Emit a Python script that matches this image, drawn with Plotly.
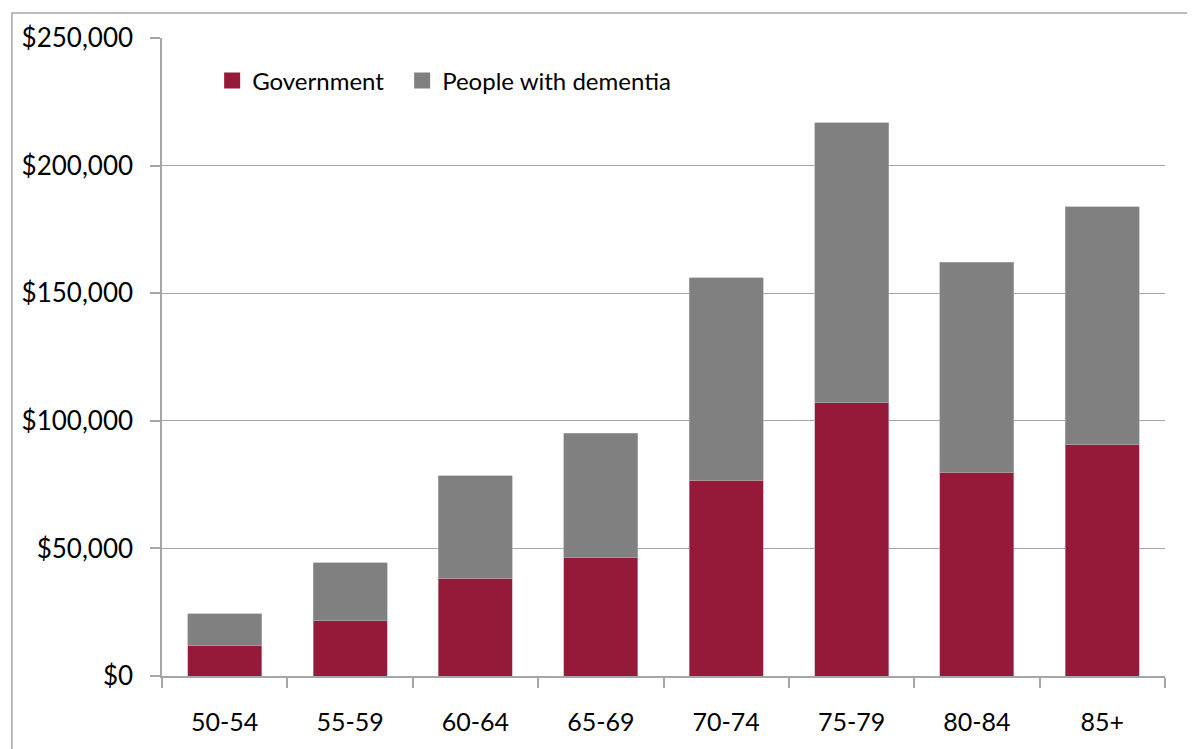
import plotly.graph_objects as go

categories = ["50-54", "55-59", "60-64", "65-69", "70-74", "75-79", "80-84", "85+"]
government = [11800, 21600, 38400, 46600, 76800, 107000, 79900, 90900]
people_with_dementia = [12500, 22700, 40000, 48600, 79200, 109700, 82300, 92900]
y_tick_values = [0, 50000, 100000, 150000, 200000, 250000]
y_tick_labels = ["$0", "$50,000", "$100,000", "$150,000", "$200,000", "$250,000"]

FONT = "Lato"
GRID = "#A6A6A6"
GOV_COLOR = "#951A3A"
PEOPLE_COLOR = "#808080"

fig = go.Figure()
fig.add_trace(go.Bar(x=categories, y=government, name="Government", showlegend=False,
                     legendgroup="gov",
                     marker=dict(color=GOV_COLOR, line=dict(color="#C9A0AB", width=0.6))))
fig.add_trace(go.Bar(x=categories, y=people_with_dementia, name="People with dementia",
                     showlegend=False, legendgroup="people",
                     marker=dict(color=PEOPLE_COLOR, line=dict(color="#B0B0B0", width=0.6))))
# legend entries with larger square swatches
fig.add_trace(go.Scatter(x=[None], y=[None], mode="markers", name="Government",
                         legendgroup="gov", legendwidth=145,
                         marker=dict(symbol="square", size=16, color=GOV_COLOR)))
fig.add_trace(go.Scatter(x=[None], y=[None], mode="markers", name="People with dementia",
                         legendgroup="people",
                         marker=dict(symbol="square", size=16, color=PEOPLE_COLOR)))

fig.update_layout(
    barmode="stack",
    bargap=0.41,
    width=1195, height=749,
    margin=dict(l=154, r=38, t=30, b=81),
    paper_bgcolor="white", plot_bgcolor="white",
    font=dict(family=FONT, size=24, color="black"),
    showlegend=True,
    legend=dict(orientation="h", traceorder="normal", x=0.05, y=0.968,
                xanchor="left", yanchor="top",
                font=dict(family=FONT, size=24), itemwidth=30, bgcolor="rgba(0,0,0,0)"),
)
fig.update_xaxes(showline=True, linecolor=GRID, linewidth=1.5,
                 ticks="outside", ticklen=10, tickcolor=GRID, tickwidth=1.5,
                 tickson="boundaries", showgrid=False, ticklabelstandoff=23,
                 tickfont=dict(family=FONT, size=25))
fig.update_yaxes(range=[0, 250000], tickvals=y_tick_values, ticktext=y_tick_labels,
                 showline=True, linecolor=GRID, linewidth=1.5,
                 ticks="outside", ticklen=10, tickcolor=GRID, tickwidth=1.5,
                 showgrid=True, gridcolor=GRID, gridwidth=1.2, zeroline=False,
                 ticklabelstandoff=12, tickfont=dict(family=FONT, size=26))

# outer chart-area border (extends beyond the visible page at right and bottom)
fig.add_shape(type="rect", xref="paper", yref="paper",
              x0=-0.1496, y0=-0.3, x1=1.2, y1=1.0392,
              line=dict(color="#A6A6A6", width=1.5), fillcolor="rgba(0,0,0,0)", layer="below")

fig.write_html("out.html")
